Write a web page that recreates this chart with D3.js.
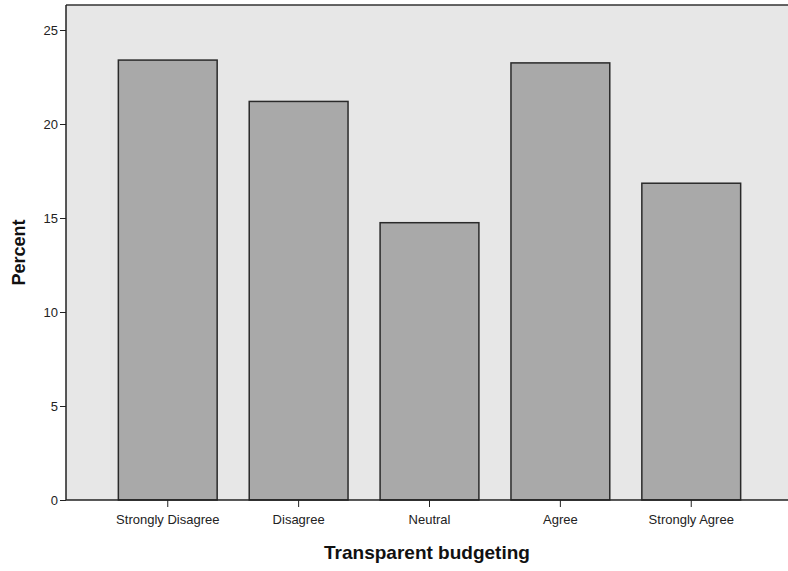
<!DOCTYPE html>
<html>
<head>
<meta charset="utf-8">
<script src="https://cdn.jsdelivr.net/npm/d3@7"></script>
<style>
	body { margin: 0; background: #fff; }
	svg { display: block; font-family: "Liberation Sans", Arial, sans-serif; }
	.axis path, .axis line { stroke: #222; }
	.axis text { fill: #222; font-size: 13px; }
</style>
</head>
<body>
<div id="chart"></div>
<script>
"use strict";

// Chart data
var categories = ["Strongly Disagree", "Disagree", "Neutral", "Agree", "Strongly Agree"],
	percentValues = [23.4, 21.2, 14.75, 23.25, 16.85],
	yTicks = [0, 5, 10, 15, 20, 25];

// Graph dimensions
var width = 788,
	height = 571,
	margin = { top: 5, right: -5, bottom: 71, left: 66 };

var svg = d3.select("#chart").append("svg")
	.attr("width", width)
	.attr("height", height);

var x = d3.scaleBand()
	.domain(categories)
	.range([margin.left, width - margin.right])
	.paddingInner(0.245)
	.paddingOuter(0.4);

var y = d3.scaleLinear()
	.domain([0, 25])
	.range([height - margin.bottom, 30]);

// Plot background
svg.append("rect")
	.attr("x", margin.left)
	.attr("y", margin.top)
	.attr("width", width - margin.left)
	.attr("height", y(0) - margin.top)
	.attr("fill", "#e7e7e7");

// Top frame line
svg.append("line")
	.attr("x1", margin.left)
	.attr("x2", width)
	.attr("y1", margin.top)
	.attr("y2", margin.top)
	.attr("stroke", "#333")
	.attr("stroke-width", 1.5);

// Bars
svg.selectAll(".bar")
	.data(percentValues)
	.enter().append("rect")
	.attr("class", "bar")
	.attr("x", function (d, i) { return x(categories[i]); })
	.attr("y", function (d) { return y(d); })
	.attr("width", x.bandwidth())
	.attr("height", function (d) { return y(0) - y(d); })
	.attr("fill", "#a9a9a9")
	.attr("stroke", "#2a2a2a")
	.attr("stroke-width", 1.5);

// Axes
var xAxis = d3.axisBottom(x).tickSize(7).tickSizeOuter(0);
var yAxis = d3.axisLeft(y).tickValues(yTicks).tickSize(6).tickSizeOuter(0);

svg.append("g")
	.attr("class", "x axis")
	.attr("transform", "translate(0," + y(0) + ")")
	.call(xAxis)
	.call(function (g) {
		g.select(".domain").attr("d", "M" + margin.left + ",0H" + width).attr("stroke-width", 1.5);
		g.selectAll("text").attr("y", 24).attr("dy", 0).attr("font-size", "13.5px");
	});

svg.append("g")
	.attr("class", "y axis")
	.attr("transform", "translate(" + margin.left + ",0)")
	.call(yAxis)
	.call(function (g) {
		g.select(".domain").attr("d", "M0," + margin.top + "V" + y(0)).attr("stroke-width", 1.5);
		g.selectAll("text").attr("x", -8);
	});

// Axis titles
svg.append("text")
	.attr("x", 427)
	.attr("y", 559)
	.attr("text-anchor", "middle")
	.attr("font-size", "19px")
	.attr("font-weight", "bold")
	.attr("fill", "#111")
	.text("Transparent budgeting");

svg.append("text")
	.attr("transform", "translate(25," + ((margin.top + y(0)) / 2) + ") rotate(-90)")
	.attr("text-anchor", "middle")
	.attr("font-size", "18px")
	.attr("font-weight", "bold")
	.attr("fill", "#111")
	.text("Percent");
</script>
</body>
</html>
